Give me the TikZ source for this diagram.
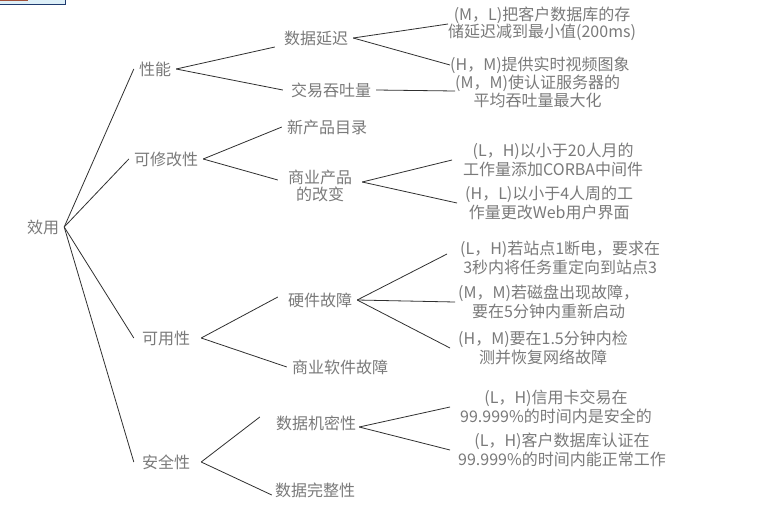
\documentclass[tikz,border=0pt]{standalone}
\usepackage{fontspec}
\newfontfamily\cjk{Noto Sans CJK SC}
\definecolor{txtgray}{HTML}{7A7A7A}
\definecolor{linecol}{HTML}{303030}
\definecolor{boxfill}{HTML}{DDEFF8}
\definecolor{boxedge}{HTML}{1F3A6E}
\definecolor{boxbar}{HTML}{A0503A}
\begin{document}
\begin{tikzpicture}[x=1pt,y=-1pt,
  lbl/.style={text=txtgray, font=\cjk\fontsize{16}{17}\selectfont, inner xsep=5pt, inner ysep=2pt, align=center},
  leaf/.style={text=txtgray, font=\cjk\fontsize{16}{19.5}\selectfont, inner sep=0pt, align=center, anchor=west},
  conn/.style={draw=linecol, line width=0.8pt}]
\useasboundingbox (0,0) rectangle (775,506);
\fill[white] (0,0) rectangle (775,506);
% top-left window artifact
\fill[boxfill] (0,0) rectangle (65,4);
\draw[boxedge, line width=1pt] (65,0) -- (65,4) -- (0,4);
\fill[boxbar] (0,0) rectangle (28,1.2);

% root and first level
\node[lbl] (root) at (43,227) {效用};
\node[lbl] (perf) at (155,69) {性能};
\node[lbl] (modi) at (166,159) {可修改性};
\node[lbl] (avail) at (166,338) {可用性};
\node[lbl] (secu) at (166,462) {安全性};

% second level
\node[lbl] (lat) at (316,38) {数据延迟};
\node[lbl] (thr) at (331,90) {交易吞吐量};
\node[lbl] (cat) at (327,127) {新产品目录};
\node[lbl] (chg) at (320,186) {商业产品\\的改变};
\node[lbl] (hw) at (320,300) {硬件故障};
\node[lbl] (sw) at (340,367) {商业软件故障};
\node[lbl] (conf) at (316,423) {数据机密性};
\node[lbl] (integ) at (315,490) {数据完整性};

% leaves
\node[leaf, font=\cjk\fontsize{16}{17}\selectfont] (l1) at (448,24) {(M，L)把客户数据库的存\\储延迟减到最小值(200ms)};
\node[leaf] (l2) at (450,65) {(H，M)提供实时视频图象};
\node[leaf, font=\cjk\fontsize{16}{18}\selectfont] (l3) at (455,91) {(M，M)使认证服务器的\\平均吞吐量最大化};
\node[leaf] (l4) at (463,160) {(L，H)以小于20人月的\\工作量添加CORBA中间件};
\node[leaf] (l5) at (465,203) {(H，L)以小于4人周的工\\作量更改Web用户界面};
\node[leaf] (l6) at (460,258) {(L，H)若站点1断电，要求在\\3秒内将任务重定向到站点3};
\node[leaf] (l7) at (458,302) {(M，M)若磁盘出现故障，\\要在5分钟内重新启动};
\node[leaf] (l8) at (458,348) {(H，M)要在1.5分钟内检\\测并恢复网络故障};
\node[leaf] (l9) at (460,407) {(L，H)信用卡交易在\\99.999\%的时间内是安全的};
\node[leaf] (l10) at (458,450) {(L，H)客户数据库认证在\\99.999\%的时间内能正常工作};

% connectors: root
\draw[conn] (root.east) -- (perf.west);
\draw[conn] (root.east) -- (modi.west);
\draw[conn] (root.east) -- ([xshift=-3pt]avail.west);
\draw[conn] (root.east) -- ([xshift=-3pt]secu.west);
% performance
\draw[conn] (perf.east) -- ([xshift=-4pt,yshift=-9pt]lat.west);
\draw[conn] (perf.east) -- ([xshift=-3pt]thr.west);
\draw[conn] (lat.east) -- (l1.west);
\draw[conn] (lat.east) -- (l2.west);
\draw[conn] (thr.east) -- (l3.west);
% modifiability
\draw[conn] (modi.east) -- (cat.west);
\draw[conn] (modi.east) -- ([xshift=-5pt,yshift=6pt]chg.west);
\draw[conn] ([xshift=5pt,yshift=4pt]chg.east) -- ([xshift=-11pt]l4.west);
\draw[conn] ([xshift=5pt,yshift=4pt]chg.east) -- ([xshift=-8pt]l5.west);
% availability
\draw[conn] ([xshift=6pt]avail.east) -- ([xshift=-5pt,yshift=3pt]hw.west);
\draw[conn] ([xshift=6pt]avail.east) -- (sw.west);
\draw[conn] (hw.east) -- ([xshift=-13pt,yshift=4pt]l6.west);
\draw[conn] (hw.east) -- ([xshift=-3pt]l7.west);
\draw[conn] (hw.east) -- ([xshift=-8pt]l8.west);
% security
\draw[conn] ([xshift=6pt]secu.east) -- ([xshift=-11pt,yshift=6pt]conf.west);
\draw[conn] ([xshift=6pt]secu.east) -- ([xshift=2pt,yshift=-5pt]integ.west);
\draw[conn] ([xshift=-2pt,yshift=-4pt]conf.east) -- ([xshift=-10pt]l9.west);
\draw[conn] ([xshift=-2pt,yshift=-4pt]conf.east) -- ([xshift=-8pt]l10.west);
\end{tikzpicture}
\end{document}
